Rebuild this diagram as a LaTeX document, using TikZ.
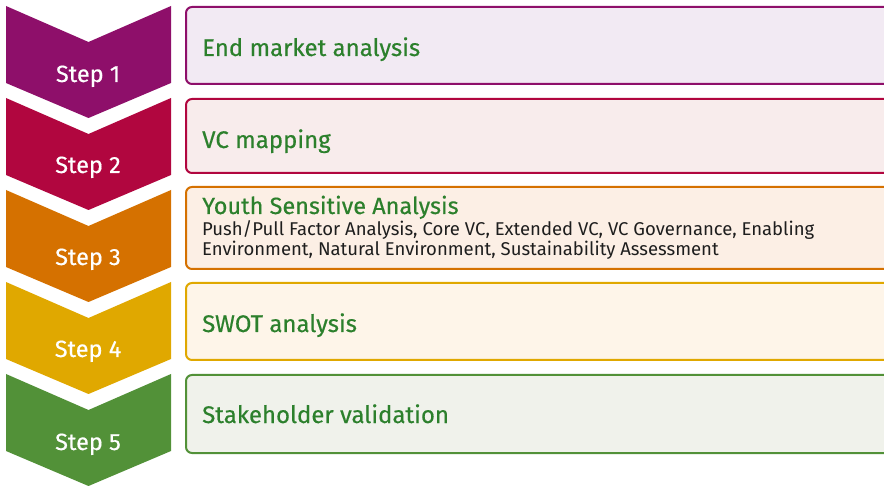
\documentclass[tikz,border=0pt]{standalone}
\usepackage{fontspec}
\setmainfont{Fira Sans}
\definecolor{c1}{HTML}{8E0F6A}
\definecolor{c2}{HTML}{B1063F}
\definecolor{c3}{HTML}{D57100}
\definecolor{c4}{HTML}{E0A800}
\definecolor{c5}{HTML}{529138}
\definecolor{f1}{HTML}{F2EAF3}
\definecolor{f2}{HTML}{F8ECEC}
\definecolor{f3}{HTML}{FCEFE5}
\definecolor{f4}{HTML}{FEF5E9}
\definecolor{f5}{HTML}{F0F2EB}
\definecolor{tgreen}{HTML}{2C802C}
\definecolor{tdark}{HTML}{1E1E1E}
\tikzset{
  steplabel/.style={text=white, font=\fontsize{23.5}{26}\selectfont\addfontfeature{FakeBold=0.4}, anchor=base, inner sep=0pt},
  stagebox/.style={rounded corners=6pt, line width=2pt, anchor=north west, inner sep=0pt, minimum width=712pt},
  title/.style={text=tgreen, font=\fontsize{24}{26}\selectfont\addfontfeature{FakeBold=0.4}, anchor=base west, inner sep=0pt},
  sub/.style={text=tdark, font=\fontsize{18.5}{20}\selectfont, anchor=base west, inner sep=0pt, align=left}
}
\begin{document}
\begin{tikzpicture}[x=1pt,y=-1pt]
\useasboundingbox (0,0) rectangle (884,486);
% chevrons
\foreach \t/\c in {6/c1, 98/c2, 190/c3, 282/c4, 374/c5}{
  \fill[\c] (6,\t) -- (88.5,\t+36) -- (171,\t) -- (171,\t+77) -- (88.5,\t+112) -- (6,\t+77) -- cycle;
}
\node[steplabel] (s1) at (88,82) {Step 1};
\node[steplabel] (s2) at (88,173) {Step 2};
\node[steplabel] (s3) at (88,265) {Step 3};
\node[steplabel] (s4) at (88,357) {Step 4};
\node[steplabel] (s5) at (88,450) {Step 5};
% boxes
\node[stagebox, draw=c1, fill=f1, minimum height=77pt] (b1) at (185,6) {};
\node[stagebox, draw=c2, fill=f2, minimum height=74pt] (b2) at (185,98) {};
\node[stagebox, draw=c3, fill=f3, minimum height=82pt] (b3) at (185,186) {};
\node[stagebox, draw=c4, fill=f4, minimum height=77pt] (b4) at (185,282) {};
\node[stagebox, draw=c5, fill=f5, minimum height=78pt] (b5) at (185,374) {};
% texts
\node[title] (t1) at (202,56) {End market analysis};
\node[title] (t2) at (202,148) {VC mapping};
\node[title, font=\fontsize{23.5}{26}\selectfont\addfontfeature{FakeBold=0.4}] (t3) at (202,214) {Youth Sensitive Analysis};
\node[sub] (d3a) at (202,236) {Push/Pull Factor Analysis, Core VC, Extended VC, VC Governance, Enabling};
\node[sub] (d3b) at (202,256) {Environment, Natural Environment, Sustainability Assessment};
\node[title] (t4) at (202,332) {SWOT analysis};
\node[title] (t5) at (202,423) {Stakeholder validation};
\end{tikzpicture}
\end{document}
